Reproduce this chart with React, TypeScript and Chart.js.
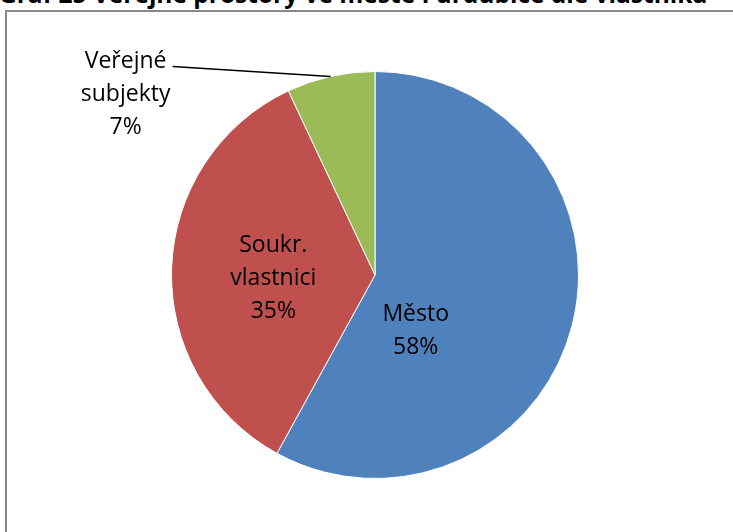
import React, { useEffect, useRef } from "react";
import { Chart, registerables } from "chart.js";

Chart.register(...registerables);

const categories: string[][] = [["Město"], ["Soukr.", "vlastnici"], ["Veřejné", "subjekty"]];
const shares: number[] = [58, 35, 7];
const colors: string[] = ["#4F81BD", "#C0504D", "#9BBB59"];
const titleText = "Graf 25 Veřejné prostory ve městě Pardubice dle vlastníka";

const FONT = '23px "Open Sans"';
const LINE_H = 33;

const labelPlugin = {
  id: "pieLabels",
  afterDatasetsDraw(chart: any) {
    const ctx = chart.ctx;
    const meta = chart.getDatasetMeta(0);
    const total = shares.reduce((a, b) => a + b, 0);
    ctx.save();
    ctx.font = FONT;
    ctx.fillStyle = "#000";
    ctx.textAlign = "center";
    ctx.textBaseline = "middle";
    meta.data.forEach((arc: any, i: number) => {
      const { x, y, startAngle, endAngle, outerRadius } = arc.getProps(
        ["x", "y", "startAngle", "endAngle", "outerRadius"],
        true
      );
      const mid = (startAngle + endAngle) / 2;
      const pct = Math.round((shares[i] / total) * 100) + "%";
      const lines = [...categories[i], pct];
      let cx: number, cy: number;
      if (i === 0) {
        cx = x + outerRadius * 0.2;
        cy = y + outerRadius * 0.25 + 5;
      } else if (i === 1) {
        cx = x + Math.cos(mid) * outerRadius * 0.5;
        cy = y + Math.sin(mid) * outerRadius * 0.5 + 7;
      } else {
        const ax = x + Math.cos(mid) * outerRadius;
        const ay = y + Math.sin(mid) * outerRadius;
        const ex = ax - 158;
        const ey = ay - 10;
        ctx.strokeStyle = "#000";
        ctx.lineWidth = 1.5;
        ctx.beginPath();
        ctx.moveTo(ax, ay);
        ctx.lineTo(ex, ey);
        ctx.stroke();
        cx = ex - 47;
        cy = ey + 28;
      }
      const top = cy - ((lines.length - 1) * LINE_H) / 2;
      lines.forEach((ln, k) => ctx.fillText(ln, cx, top + k * LINE_H));
    });
    ctx.restore();
  },
};

export default function App() {
  const ref = useRef<HTMLCanvasElement | null>(null);
  useEffect(() => {
    if (!ref.current) return;
    const chart = new Chart(ref.current, {
      type: "pie",
      data: {
        labels: categories.map((c) => c.join(" ")),
        datasets: [
          {
            data: shares,
            backgroundColor: colors,
            borderColor: "#ffffff",
            borderWidth: 1,
          },
        ],
      },
      options: {
        animation: false,
        responsive: true,
        maintainAspectRatio: false,
        layout: { padding: { left: 171, right: 154, top: 71, bottom: 53 } },
        plugins: {
          legend: { display: false },
          tooltip: { enabled: false },
          title: { display: false },
        },
      },
      plugins: [labelPlugin],
    });
    return () => chart.destroy();
  }, []);

  return (
    <div
      style={{
        position: "absolute",
        left: 0,
        top: 0,
        width: 733,
        height: 532,
        overflow: "hidden",
        background: "#fff",
      }}
    >
      <div
        style={{
          position: "absolute",
          left: -1,
          top: -22,
          whiteSpace: "nowrap",
          font: 'bold 24.5px "Open Sans"',
          color: "#000",
          lineHeight: "32px",
        }}
      >
        {titleText}
      </div>
      <div
        style={{
          position: "absolute",
          left: 5,
          top: 10,
          width: 900,
          height: 700,
          border: "2px solid #888888",
          boxSizing: "border-box",
        }}
      />
      <div style={{ position: "absolute", left: 0, top: 0, width: 733, height: 532 }}>
        <canvas ref={ref} />
      </div>
    </div>
  );
}
